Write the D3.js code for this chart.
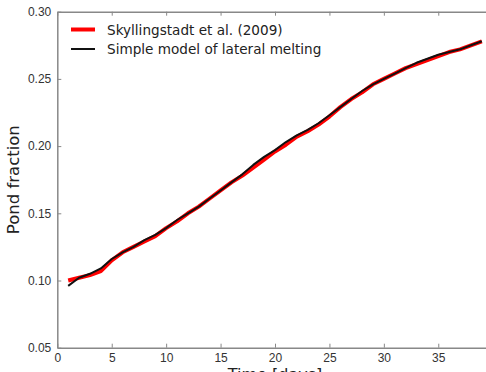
<!DOCTYPE html>
<html>
<head>
<meta charset="utf-8">
<script src="https://cdn.jsdelivr.net/npm/d3@7"></script>
<style>
  body { margin: 0; background: #fff; }
  svg { display: block; font-family: "DejaVu Sans", sans-serif; }
</style>
</head>
<body>
<div id="chart"></div>
<script>
// days
const days = [1,2,3,4,5,6,7,8,9,10,11,12,13,14,15,16,17,18,19,20,
              21,22,23,24,25,26,27,28,29,30,31,32,33,34,35,36,37,38,39];
// Skyllingstadt et al. (2009)
const skyllingstadt = [0.100,0.102,0.104,0.107,0.115,0.121,0.125,0.129,0.133,0.139,
                       0.144,0.150,0.155,0.161,0.167,0.173,0.178,0.184,0.190,0.196,
                       0.201,0.207,0.211,0.216,0.222,0.229,0.235,0.240,0.246,0.250,
                       0.254,0.258,0.261,0.264,0.267,0.270,0.272,0.275,0.278];
// simple model of lateral melting
const simpleModel = [0.096,0.102,0.105,0.109,0.116,0.121,0.125,0.130,0.134,0.139,
                     0.145,0.150,0.155,0.161,0.167,0.173,0.179,0.186,0.192,0.197,
                     0.203,0.208,0.212,0.217,0.223,0.229,0.235,0.241,0.246,0.250,
                     0.254,0.258,0.262,0.265,0.268,0.270,0.272,0.275,0.278];
const xTicks = [0,5,10,15,20,25,30,35,40];
const yTicks = [0.05,0.10,0.15,0.20,0.25,0.30];

const W = 486, H = 372;
const margin = {top: 11.7, left: 57.3};
const width = 435.4, height = 336;

const svg = d3.select("#chart").append("svg")
    .attr("width", W)
    .attr("height", H);

const g = svg.append("g")
    .attr("transform", "translate(" + margin.left + "," + margin.top + ")");

const x = d3.scaleLinear().domain([0, 40]).range([0, width]);
const y = d3.scaleLinear().domain([0.05, 0.30]).range([height, 0]);

// lines
const line = (vals) => d3.line()
    .x((d, i) => x(days[i]))
    .y(d => y(d))(vals);

g.append("path")
    .attr("d", line(skyllingstadt))
    .attr("fill", "none")
    .attr("stroke", "#ff0000")
    .attr("stroke-width", 4)
    .attr("stroke-linejoin", "round");

g.append("path")
    .attr("d", line(simpleModel))
    .attr("fill", "none")
    .attr("stroke", "#111")
    .attr("stroke-width", 2)
    .attr("stroke-linejoin", "round");

// axes, ticks pointing inward
const styleAxis = (sel) => {
    sel.select(".domain").attr("stroke", "#888").attr("stroke-width", 1.5);
    sel.selectAll(".tick line").attr("stroke", "#888").attr("stroke-width", 1);
    sel.selectAll(".tick text").attr("fill", "#333").style("font-size", "12px");
};

g.append("g")
    .attr("transform", "translate(0," + height + ")")
    .call(d3.axisBottom(x).tickValues(xTicks).tickSizeInner(-4).tickSizeOuter(0).tickPadding(6))
    .call(styleAxis);

g.append("g")
    .call(d3.axisTop(x).tickValues(xTicks).tickSizeInner(-4).tickSizeOuter(0).tickFormat(""))
    .call(styleAxis);

g.append("g")
    .call(d3.axisLeft(y).tickValues(yTicks).tickFormat(d3.format(".2f")).tickSizeInner(-4).tickSizeOuter(0).tickPadding(6))
    .call(styleAxis);

g.append("g")
    .attr("transform", "translate(" + width + ",0)")
    .call(d3.axisRight(y).tickValues(yTicks).tickSizeInner(-4).tickSizeOuter(0).tickFormat(""))
    .call(styleAxis);

// axis labels
svg.append("text")
    .attr("x", margin.left + width / 2)
    .attr("y", 380)
    .attr("text-anchor", "middle")
    .attr("fill", "#222")
    .style("font-size", "16px")
    .text("Time [days]");

svg.append("text")
    .attr("transform", "translate(19," + (margin.top + height / 2) + ") rotate(-90)")
    .attr("text-anchor", "middle")
    .attr("fill", "#222")
    .style("font-size", "16.5px")
    .text("Pond fraction");

// legend
const legend = [
    {label: "Skyllingstadt et al. (2009)", color: "#ff0000", w: 4, y: 29.5},
    {label: "Simple model of lateral melting", color: "#111", w: 2, y: 49}
];
legend.forEach(d => {
    svg.append("line")
        .attr("x1", 71).attr("x2", 95)
        .attr("y1", d.y).attr("y2", d.y)
        .attr("stroke", d.color)
        .attr("stroke-width", d.w);
    svg.append("text")
        .attr("x", 107)
        .attr("y", d.y + 5)
        .attr("fill", "#222")
        .style("font-size", "13.6px")
        .text(d.label);
});
</script>
</body>
</html>
